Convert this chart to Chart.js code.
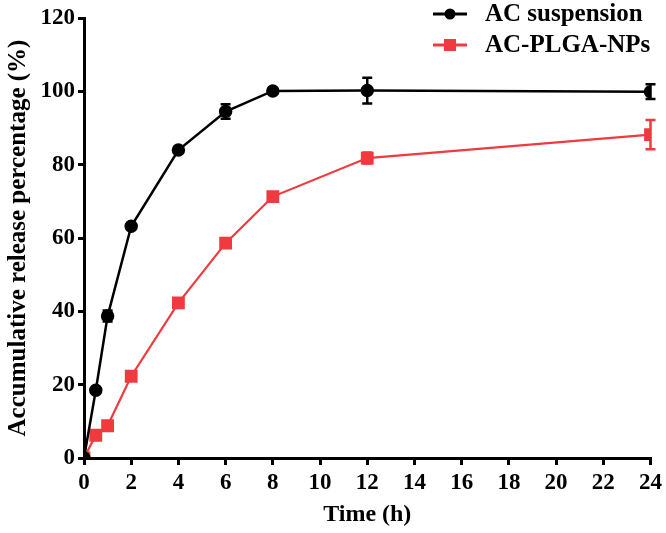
<!DOCTYPE html>
<html>
<head>
<meta charset="utf-8">
<script src="https://cdn.jsdelivr.net/npm/chart.js@4/dist/chart.umd.min.js"></script>
<style>
html,body{margin:0;padding:0;background:#fff;}
#wrap{width:666px;height:533px;}
</style>
</head>
<body>
<div id="wrap"><canvas id="chart"></canvas></div>
<script>
// ===== data =====
const times=[0,0.5,1,2,4,6,8,12,24];
const acSusp=[0,18.5,38.7,63.2,84.0,94.5,100.1,100.2,99.9];
const acSuspErr=[0,0,1.5,0,0,2.0,0,3.5,2.0];
const acPlga=[0,6.2,8.8,22.3,42.3,58.6,71.3,81.8,88.2];
const acPlgaErr=[0,0,0,0,0,0,0,1.5,4.0];
const xTicks=[0,2,4,6,8,10,12,14,16,18,20,22,24];
const yTicks=[0,20,40,60,80,100,120];

const RED="#f03a3f";
const FONT="'Liberation Serif','Times New Roman',serif";

function pts(ys){return times.map((t,i)=>({x:t,y:ys[i]}));}

// ===== error bars, drawn through the scales =====
const errorBars={
id:"errorBars",
afterDatasetsDraw(chart){
const ctx=chart.ctx, xs=chart.scales.x, ys=chart.scales.y;
chart.data.datasets.forEach(ds=>{
ctx.save();
ctx.strokeStyle=ds.borderColor;
ctx.lineWidth=2.5;
ds.err.forEach((e,i)=>{
if(!e) return;
let px=xs.getPixelForValue(ds.data[i].x);
let top=ys.getPixelForValue(ds.data[i].y+e);
let bot=ys.getPixelForValue(ds.data[i].y-e);
ctx.beginPath();
ctx.moveTo(px,top);ctx.lineTo(px,bot);
ctx.moveTo(px-5,top);ctx.lineTo(px+5,top);
ctx.moveTo(px-5,bot);ctx.lineTo(px+5,bot);
ctx.stroke();
});
ctx.restore();
});
}
};

// ===== legend in the top right corner =====
const cornerLegend={
id:"cornerLegend",
afterDraw(chart){
const ctx=chart.ctx;
ctx.save();
ctx.font="bold 25px "+FONT;
ctx.textBaseline="middle";
chart.data.datasets.forEach((ds,i)=>{
let y=14+i*31;
ctx.strokeStyle=ds.borderColor;
ctx.lineWidth=3;
ctx.beginPath();ctx.moveTo(433,y);ctx.lineTo(467,y);ctx.stroke();
ctx.fillStyle=ds.borderColor;
if(ds.pointStyle==="rect"){
ctx.fillRect(444,y-6,12,12);
}else{
ctx.beginPath();ctx.arc(450,y,5.5,0,Math.PI*2);ctx.fill();
}
ctx.fillStyle="#000";
ctx.fillText(ds.label,485,y+1);
});
ctx.restore();
}
};

new Chart(document.getElementById("chart"),{
type:"scatter",
data:{
datasets:[
{label:"AC suspension",data:pts(acSusp),err:acSuspErr,showLine:true,
borderColor:"#000",backgroundColor:"#000",borderWidth:2.5,
pointStyle:"circle",pointRadius:5.5,pointHoverRadius:5.5},
{label:"AC-PLGA-NPs",data:pts(acPlga),err:acPlgaErr,showLine:true,
borderColor:RED,backgroundColor:RED,borderWidth:2.2,
pointStyle:"rect",pointRadius:7.5,pointHoverRadius:7.5}
]
},
options:{
responsive:true,
maintainAspectRatio:false,
animation:false,
layout:{padding:{top:18,right:15,left:0,bottom:0}},
plugins:{legend:{display:false},tooltip:{enabled:false}},
scales:{
x:{
type:"linear",min:0,max:24,
afterBuildTicks(s){s.ticks=xTicks.map(v=>({value:v}));},
afterFit(s){s.height=75;},
border:{color:"#000",width:3},
grid:{drawOnChartArea:false,color:"#000",lineWidth:3,tickLength:7},
ticks:{color:"#000",font:{family:FONT,size:23,weight:"bold"},padding:4,maxRotation:0},
title:{display:true,text:"Time (h)",color:"#000",font:{family:FONT,size:24,weight:"bold"},padding:{top:0}}
},
y:{
type:"linear",min:0,max:120,
afterBuildTicks(s){s.ticks=yTicks.map(v=>({value:v}));},
afterFit(s){s.width=84;},
border:{color:"#000",width:3},
grid:{drawOnChartArea:false,color:"#000",lineWidth:3,tickLength:6},
ticks:{color:"#000",font:{family:FONT,size:23,weight:"bold"},padding:3},
title:{display:true,text:"Accumulative release percentage (%)",color:"#000",font:{family:FONT,size:25,weight:"bold"},padding:{bottom:0}}
}
}
},
plugins:[errorBars,cornerLegend]
});
</script>
</body>
</html>
